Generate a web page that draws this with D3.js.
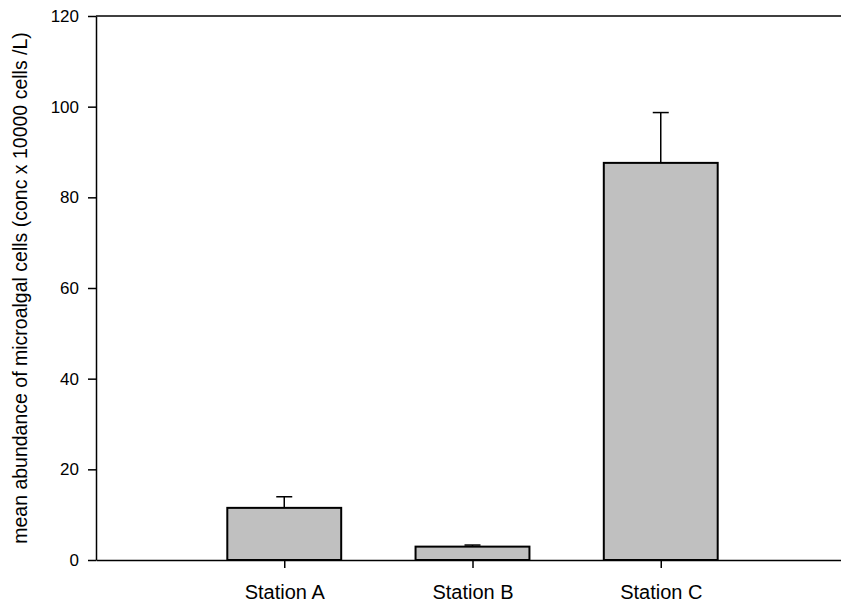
<!DOCTYPE html>
<html lang="en">
<head>
  <meta charset="UTF-8">
  <title>Microalgal abundance</title>
  <style>
    body { margin: 0; padding: 0; background: #fff; }
    svg text { font-family: "Liberation Sans", Arial, sans-serif; fill: #000; }
  </style>
</head>
<body>
<svg width="841" height="605"></svg>
<script src="https://d3js.org/d3.v7.min.js"></script>
<script>
// data
const stations = ["Station A", "Station B", "Station C"];
const means = [11.5, 2.95, 87.6];
const errors = [2.45, 0.35, 11.1];
const yTicks = [0, 20, 40, 60, 80, 100, 120];

const svg = d3.select("svg");
const plotLeft = 96, plotTop = 16, plotBottom = 560;

// stations sit at 1, 2, 3 on a 0..4 axis (right end runs off the picture)
const x = d3.scaleLinear().domain([0, 4]).range([plotLeft, 849]);
const y = d3.scaleLinear().domain([0, 120]).range([plotBottom, plotTop]);
const barW = x(0.605) - x(0);

// bars
svg.selectAll("rect.bar")
  .data(means)
  .join("rect")
  .attr("class", "bar")
  .attr("x", (d, i) => x(i + 1) - barW / 2)
  .attr("y", d => y(d))
  .attr("width", barW)
  .attr("height", d => y(0) - y(d))
  .attr("fill", "#c0c0c0")
  .attr("stroke", "#000")
  .attr("stroke-width", 2);

// error bars (upper only)
const eb = svg.selectAll("g.err")
  .data(means)
  .join("g")
  .attr("class", "err")
  .attr("stroke", "#000")
  .attr("stroke-width", 1.5);

eb.append("line")
  .attr("x1", (d, i) => x(i + 1))
  .attr("x2", (d, i) => x(i + 1))
  .attr("y1", d => y(d))
  .attr("y2", (d, i) => y(d + errors[i]));

eb.append("line")
  .attr("x1", (d, i) => x(i + 1) - 8)
  .attr("x2", (d, i) => x(i + 1) + 8)
  .attr("y1", (d, i) => y(d + errors[i]))
  .attr("y2", (d, i) => y(d + errors[i]));

// y axis
const yAxis = svg.append("g")
  .attr("transform", `translate(${plotLeft},0)`)
  .call(d3.axisLeft(y).tickValues(yTicks).tickSize(8).tickPadding(9).tickSizeOuter(0));
yAxis.select(".domain").attr("stroke-width", 1.5);
yAxis.selectAll(".tick line").attr("stroke-width", 1.5);
yAxis.selectAll(".tick text").style("font-size", "17px");

// x axis
const xAxis = svg.append("g")
  .attr("transform", `translate(0,${plotBottom})`)
  .call(d3.axisBottom(x).tickValues([1, 2, 3]).tickSize(8).tickSizeOuter(0)
    .tickFormat(d => stations[d - 1]));
xAxis.select(".domain").attr("stroke-width", 1.5);
xAxis.selectAll(".tick line").attr("stroke-width", 1.5);
xAxis.selectAll(".tick text")
  .attr("y", 0)
  .attr("dy", "39px")
  .style("font-size", "20px");

// top frame line
svg.append("line")
  .attr("x1", plotLeft).attr("x2", 849)
  .attr("y1", plotTop).attr("y2", plotTop)
  .attr("stroke", "#000").attr("stroke-width", 1.5);

// y title
svg.append("text")
  .attr("transform", `translate(27,${(plotTop + plotBottom) / 2}) rotate(-90)`)
  .attr("text-anchor", "middle")
  .style("font-size", "19.5px")
  .text("mean abundance of microalgal cells (conc x 10000 cells /L)");
</script>
</body>
</html>
